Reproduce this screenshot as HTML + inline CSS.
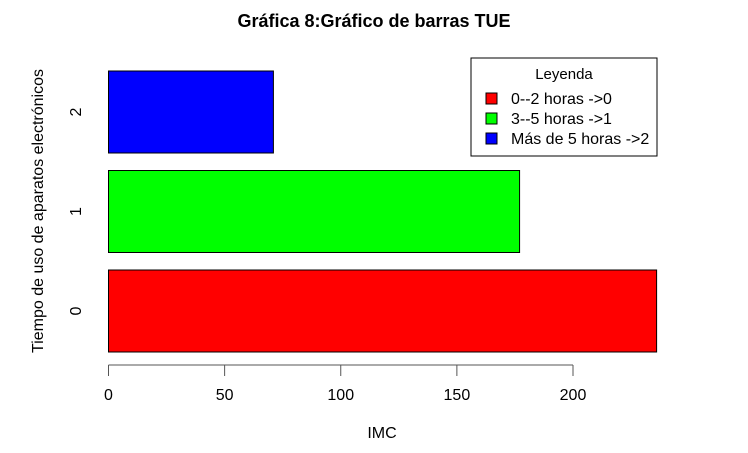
<!DOCTYPE html>
<html><head><meta charset="utf-8"><style>
body{margin:0;background:#fff}
svg text{font-family:"Liberation Sans",Arial,sans-serif}
</style></head><body>
<svg id="c" width="748" height="448" xmlns="http://www.w3.org/2000/svg">
<text x="374" y="27" text-anchor="middle" font-size="18" font-weight="bold">Gráfica 8:Gráfico de barras TUE</text>
<text x="382" y="438" text-anchor="middle" font-size="16">IMC</text>
<text transform="translate(43,211) rotate(-90)" text-anchor="middle" font-size="16">Tiempo de uso de aparatos electrónicos</text>
<g id="bars"></g><g id="xaxis"></g><g id="ylabels"></g>
<g>
<rect x="471" y="58" width="186" height="98" fill="#fff" stroke="#000"/>
<text x="564" y="79" text-anchor="middle" font-size="15">Leyenda</text>
<g id="legend"></g>
</g>
</svg>
<script>
const categories=["0","1","2"];
const values=[236,177,71];
const colors=["#ff0000","#00ff00","#0000ff"];
const legendLabels=["0--2 horas ->0","3--5 horas ->1","Más de 5 horas ->2"];
const ticks=[0,50,100,150,200];
const NS="http://www.w3.org/2000/svg";
const x=v=>108.5+v*2.3225;
const yc=i=>311-i*99.5;
function mk(t,a,p){const e=document.createElementNS(NS,t);for(const k in a)e.setAttribute(k,a[k]);p.appendChild(e);return e;}
const bars=document.getElementById('bars');
values.forEach((v,i)=>{
 const r=mk('rect',{x:x(0),y:yc(i)-41,width:x(v)-x(0),height:82,fill:colors[i],stroke:'#000'},bars);
 
 
});
const yl=document.getElementById('ylabels');
categories.forEach((c,i)=>{
 const t=mk('text',{transform:`translate(81,${yc(i)}) rotate(-90)`,'text-anchor':'middle','font-size':16},yl);
 t.textContent=c;
 
 
});
const xa=document.getElementById('xaxis');
const ln=mk('line',{x1:x(0),x2:x(200),y1:365,y2:365,stroke:'#555'},xa);


ticks.forEach(v=>{
 mk('line',{x1:x(v),x2:x(v),y1:365,y2:376,stroke:'#555'},xa);
 const t=mk('text',{x:x(v),y:400,'text-anchor':'middle','font-size':16},xa);
 t.textContent=v;
 
 
});
const lg=document.getElementById('legend');
legendLabels.forEach((l,i)=>{
 const y=99+i*20;
 const r=mk('rect',{x:486,y:y-6,width:11,height:11,fill:colors[i],stroke:'#000'},lg);
 
 
 const t=mk('text',{x:511,y:y+5,'font-size':16},lg);
 t.textContent=l;
 
 
});
</script>
</body></html>
